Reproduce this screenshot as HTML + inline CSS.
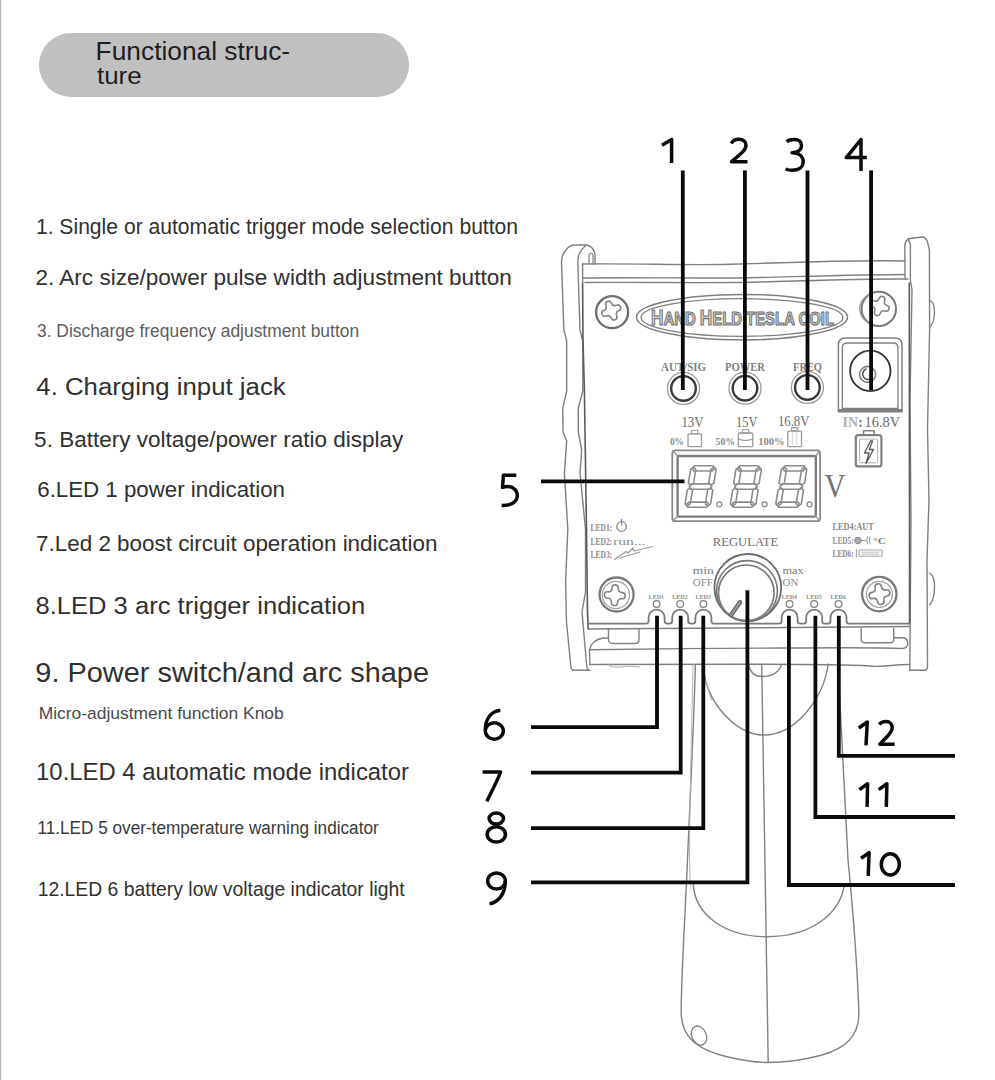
<!DOCTYPE html>
<html><head><meta charset="utf-8"><style>
html,body{margin:0;padding:0;background:#fff;}
body{width:995px;height:1080px;overflow:hidden;position:relative;}
svg{position:absolute;left:0;top:0;display:block;}
text{font-family:"Liberation Sans",sans-serif;}
.serif{font-family:"Liberation Serif",serif;}
</style></head><body>
<svg width="995" height="1080" viewBox="0 0 995 1080">
<rect x="0" y="0" width="995" height="1080" fill="#fff"/>
<rect x="0" y="0" width="1.3" height="1080" fill="#b8b8b8"/>
<rect x="39" y="33" width="370" height="64" rx="32" ry="32" fill="#c0c0c0"/>
<text x="95.63" y="59.50" font-size="25.24" fill="#1e1e1e" textLength="194.52" lengthAdjust="spacingAndGlyphs">Functional struc-</text>
<text x="96.94" y="83.80" font-size="23.72" fill="#1e1e1e" textLength="44.67" lengthAdjust="spacingAndGlyphs">ture</text>
<text x="35.91" y="233.90" font-size="22.70" fill="#303030" textLength="482.17" lengthAdjust="spacingAndGlyphs">1. Single or automatic trigger mode selection button</text>
<text x="35.49" y="284.80" font-size="22.93" fill="#303030" textLength="476.29" lengthAdjust="spacingAndGlyphs">2. Arc size/power pulse width adjustment button</text>
<text x="36.99" y="336.50" font-size="18.76" fill="#5e5e5e" textLength="322.08" lengthAdjust="spacingAndGlyphs">3. Discharge frequency adjustment button</text>
<text x="36.31" y="394.60" font-size="24.11" fill="#303030" textLength="249.41" lengthAdjust="spacingAndGlyphs">4. Charging input jack</text>
<text x="34.13" y="446.70" font-size="22.42" fill="#303030" textLength="369.14" lengthAdjust="spacingAndGlyphs">5. Battery voltage/power ratio display</text>
<text x="37.24" y="496.80" font-size="22.23" fill="#303030" textLength="247.72" lengthAdjust="spacingAndGlyphs">6.LED 1 power indication</text>
<text x="36.08" y="551.25" font-size="21.78" fill="#303030" textLength="401.28" lengthAdjust="spacingAndGlyphs">7.Led 2 boost circuit operation indication</text>
<text x="35.41" y="613.80" font-size="24.18" fill="#303030" textLength="329.92" lengthAdjust="spacingAndGlyphs">8.LED 3 arc trigger indication</text>
<text x="35.36" y="681.60" font-size="27.65" fill="#303030" textLength="393.67" lengthAdjust="spacingAndGlyphs">9. Power switch/and arc shape</text>
<text x="38.69" y="718.50" font-size="17.34" fill="#4a4a4a" textLength="245.03" lengthAdjust="spacingAndGlyphs">Micro-adjustment function Knob</text>
<text x="36.08" y="780.40" font-size="23.12" fill="#303030" textLength="372.91" lengthAdjust="spacingAndGlyphs">10.LED 4 automatic mode indicator</text>
<text x="37.47" y="833.50" font-size="19.03" fill="#3a3a3a" textLength="341.20" lengthAdjust="spacingAndGlyphs">11.LED 5 over-temperature warning indicator</text>
<text x="37.63" y="895.60" font-size="21.01" fill="#303030" textLength="367.10" lengthAdjust="spacingAndGlyphs">12.LED 6 battery low voltage indicator light</text>
<g id="device" fill="none" stroke="#808080" stroke-width="1.4" stroke-linejoin="round" stroke-linecap="round">
<path d="M590,670.3 L574,670.3 Q571.3,670.3 570.9,667 L566.5,622 L565.6,582 L567.8,529 L564.4,473 L566.7,441 L563,432 L562.8,408 L566.7,391 L566.7,341 L563.9,330 L561.5,262 Q561.5,255 566,250 Q569,245.5 574,245 L585,245 Q590,245 593,249 Q595,252 595,256 L595,264"/>
<path d="M586,245.2 Q581,249 578.5,255 L577.8,262 L580,330 L582.8,341 L582.8,391 L578.3,408 L578.3,432 L581.7,450 L580,473 L585.5,529 L585.5,592 L582,612 L586.8,667 L588.5,670.3"/>
<path d="M589,264 L589,255 Q591,251 593,255 L593,264" stroke-width="1.2"/>
<path d="M582.6,283 L583,340 L584.4,391 L586.5,530 L587.5,612 L588.3,629" stroke="#5a5a5a" stroke-width="1.6"/>
<path d="M582.6,264 C640,263 690,266 740,264 C800,262 860,260 905,261"/>
<path d="M582.6,264 L582.6,283"/>
<path d="M583,278 C650,277 700,279 760,277.5 C820,276 870,274.5 905,274.5"/>
<path d="M585,282.5 C650,282 700,283.5 760,282 C820,280 870,278.5 908,279"/>
<path d="M905,279 L904.8,246 Q905,240 910,238.5 L922,237 Q926,237 927.5,242 L929.4,250 L929.6,330 L927.5,430 L929,500 L927,560 L927.5,666 Q927.5,670.3 924,670.3 L909.8,670.3"/>
<path d="M908.3,238.5 L910.4,245 L910.4,280 L912,290 L910,400 L911,520 L909.8,670.3"/>
<path d="M929.5,300 Q935,303 934.5,313 Q934,324 929.5,327"/>
<path d="M929.5,573 Q935,576 934.5,588 Q934,601 929.5,605"/>
<path d="M909.3,283 L909.6,623" stroke="#5a5a5a" stroke-width="1.6"/>
<circle cx="612.1" cy="312.2" r="16" stroke="#6e6e6e" stroke-width="2.3"/>
<path d="M-3.2,-7.5 Q-3.2,-10.8 0,-10.8 Q3.2,-10.8 3.2,-7.5 C3.2,-4.5 4.5,-3.2 7.5,-3.2 Q10.8,-3.2 10.8,0 Q10.8,3.2 7.5,3.2 C4.5,3.2 3.2,4.5 3.2,7.5 Q3.2,10.8 0,10.8 Q-3.2,10.8 -3.2,7.5 C-3.2,4.5 -4.5,3.2 -7.5,3.2 Q-10.8,3.2 -10.8,0 Q-10.8,-3.2 -7.5,-3.2 C-4.5,-3.2 -3.2,-4.5 -3.2,-7.5 Z" transform="translate(611.3,310.6) rotate(-23) scale(0.92)" stroke="#858585" stroke-width="1.74"/>
<circle cx="878.8" cy="308.9" r="17.2" stroke="#7a7a7a" stroke-width="2"/>
<path d="M872,294 A15,15 0 0 0 872,323.5" stroke="#9a9a9a" stroke-width="1.3"/>
<path d="M-3.2,-7.5 Q-3.2,-10.8 0,-10.8 Q3.2,-10.8 3.2,-7.5 C3.2,-4.5 4.5,-3.2 7.5,-3.2 Q10.8,-3.2 10.8,0 Q10.8,3.2 7.5,3.2 C4.5,3.2 3.2,4.5 3.2,7.5 Q3.2,10.8 0,10.8 Q-3.2,10.8 -3.2,7.5 C-3.2,4.5 -4.5,3.2 -7.5,3.2 Q-10.8,3.2 -10.8,0 Q-10.8,-3.2 -7.5,-3.2 C-4.5,-3.2 -3.2,-4.5 -3.2,-7.5 Z" transform="translate(879.6,306) rotate(19) scale(0.92)" stroke="#858585" stroke-width="1.74"/>
<circle cx="616.6" cy="594.5" r="17" stroke="#7a7a7a" stroke-width="2.3"/>
<circle cx="615.9" cy="595" r="13.6" stroke="#a0a0a0" stroke-width="1.2"/>
<path d="M-3.2,-7.5 Q-3.2,-10.8 0,-10.8 Q3.2,-10.8 3.2,-7.5 C3.2,-4.5 4.5,-3.2 7.5,-3.2 Q10.8,-3.2 10.8,0 Q10.8,3.2 7.5,3.2 C4.5,3.2 3.2,4.5 3.2,7.5 Q3.2,10.8 0,10.8 Q-3.2,10.8 -3.2,7.5 C-3.2,4.5 -4.5,3.2 -7.5,3.2 Q-10.8,3.2 -10.8,0 Q-10.8,-3.2 -7.5,-3.2 C-4.5,-3.2 -3.2,-4.5 -3.2,-7.5 Z" transform="translate(614.8,595.3) rotate(3) scale(0.97)" stroke="#858585" stroke-width="1.65"/>
<circle cx="879.3" cy="594.1" r="17.2" stroke="#7a7a7a" stroke-width="2.3"/>
<circle cx="879.4" cy="594.3" r="13" stroke="#a0a0a0" stroke-width="1.2"/>
<path d="M-3.2,-7.5 Q-3.2,-10.8 0,-10.8 Q3.2,-10.8 3.2,-7.5 C3.2,-4.5 4.5,-3.2 7.5,-3.2 Q10.8,-3.2 10.8,0 Q10.8,3.2 7.5,3.2 C4.5,3.2 3.2,4.5 3.2,7.5 Q3.2,10.8 0,10.8 Q-3.2,10.8 -3.2,7.5 C-3.2,4.5 -4.5,3.2 -7.5,3.2 Q-10.8,3.2 -10.8,0 Q-10.8,-3.2 -7.5,-3.2 C-4.5,-3.2 -3.2,-4.5 -3.2,-7.5 Z" transform="translate(879.5,594.2) rotate(-10) scale(0.97)" stroke="#858585" stroke-width="1.65"/>
<ellipse cx="742" cy="317.2" rx="105.5" ry="22.8" stroke="#808080" stroke-width="1.5"/>
<ellipse cx="742" cy="317.5" rx="101" ry="18.8" stroke="#808080" stroke-width="1.3"/>
<text x="651" y="325.2" font-weight="bold" fill="#d0d0d0" stroke="#6e6e6e" stroke-width="1.1" textLength="183" lengthAdjust="spacingAndGlyphs"><tspan font-size="21.5">H</tspan><tspan font-size="18.6">AND </tspan><tspan font-size="21.5">H</tspan><tspan font-size="18.6">ELD TESLA COIL</tspan></text>
<circle cx="683.5" cy="388.4" r="16" stroke="#9a9a9a" stroke-width="1.3"/>
<circle cx="683.5" cy="388.4" r="12.3" stroke="#3a3a3a" stroke-width="2.4"/>
<circle cx="745" cy="388.2" r="16" stroke="#9a9a9a" stroke-width="1.3"/>
<circle cx="745" cy="388.2" r="12.3" stroke="#3a3a3a" stroke-width="2.4"/>
<circle cx="807.4" cy="387.4" r="16" stroke="#9a9a9a" stroke-width="1.3"/>
<circle cx="807.4" cy="387.4" r="12.3" stroke="#3a3a3a" stroke-width="2.4"/>
<text class="serif" x="661" y="371" font-size="11.5" fill="#808080" stroke="none" font-weight="bold" textLength="45" lengthAdjust="spacingAndGlyphs" >AUT/SIG</text>
<text class="serif" x="725" y="371" font-size="11.5" fill="#808080" stroke="none" font-weight="bold" textLength="40" lengthAdjust="spacingAndGlyphs" >POWER</text>
<text class="serif" x="793" y="371" font-size="11.5" fill="#808080" stroke="none" font-weight="bold" textLength="29" lengthAdjust="spacingAndGlyphs" >FREQ</text>
<path d="M838.4,411.7 L838.4,345 Q838.4,338 845.4,338 L895,338 Q902,338 902,345 L902,411.7 Z" stroke="#808080" stroke-width="1.5"/>
<path d="M842.3,408.5 L842.3,348 Q842.3,343 847.3,343 L893,343 Q898,343 898,348 L898,408.5 Z" stroke="#808080" stroke-width="1.3"/>
<line x1="839" y1="410.3" x2="901.5" y2="410.3" stroke="#808080" stroke-width="2.6"/>
<circle cx="870.3" cy="370.9" r="20.2" stroke="#333" stroke-width="1.8"/>
<circle cx="867.6" cy="374.4" r="8" stroke="#808080" stroke-width="1.6"/>
<path d="M866,369 A5.5,5.5 0 1 0 872,378" stroke="#555" stroke-width="1.6"/>
<text class="serif" x="842.5" y="426.5" font-size="14" fill="#b0b0b0" stroke="none" font-weight="bold" textLength="15.5" lengthAdjust="spacingAndGlyphs" >IN</text>
<text class="serif" x="858.5" y="426.5" font-size="14" fill="#666" stroke="none" font-weight="bold" textLength="4" lengthAdjust="spacingAndGlyphs" >:</text>
<text class="serif" x="864.6" y="426.5" font-size="14.5" fill="#6a6a6a" stroke="none" font-weight="normal" textLength="35.5" lengthAdjust="spacingAndGlyphs" >16.8V</text>
<rect x="855.8" y="435.2" width="25.6" height="31.2" rx="2.5" stroke="#808080" stroke-width="2.2"/>
<rect x="859.6" y="439" width="18" height="23.8" rx="1" stroke="#b0b0b0" stroke-width="1"/>
<rect x="863.5" y="430.8" width="10.5" height="4.4" stroke="#808080" stroke-width="1.6"/>
<path d="M870.5,441 L864.5,453 L869,453 L866,463.5 L873.5,449.5 L869.3,449.5 L872.5,441 Z" stroke="#555" stroke-width="1.3"/>
<text class="serif" x="681.4" y="427.4" font-size="14" fill="#6a6a6a" stroke="none" font-weight="normal" textLength="22.2" lengthAdjust="spacingAndGlyphs" >13V</text>
<text class="serif" x="736" y="427.4" font-size="14" fill="#6a6a6a" stroke="none" font-weight="normal" textLength="21.4" lengthAdjust="spacingAndGlyphs" >15V</text>
<text class="serif" x="777.9" y="425.7" font-size="14" fill="#6a6a6a" stroke="none" font-weight="normal" textLength="31.6" lengthAdjust="spacingAndGlyphs" >16.8V</text>
<text class="serif" x="669.9" y="445.4" font-size="11" fill="#8a8a8a" stroke="none" font-weight="bold" textLength="14" lengthAdjust="spacingAndGlyphs" >0%</text>
<text class="serif" x="715.5" y="445.4" font-size="11" fill="#8a8a8a" stroke="none" font-weight="bold" textLength="19.7" lengthAdjust="spacingAndGlyphs" >50%</text>
<text class="serif" x="758.2" y="445.4" font-size="11" fill="#8a8a8a" stroke="none" font-weight="bold" textLength="26.5" lengthAdjust="spacingAndGlyphs" >100%</text>
<rect x="688" y="433.8" width="13.5" height="12.800000000000011" rx="1" stroke="#9a9a9a" stroke-width="1.3"/><rect x="691.7" y="430.3" width="6.1" height="3.5" stroke="#9a9a9a" stroke-width="1.1"/>
<rect x="738.3" y="433.0" width="14.5" height="13.600000000000023" rx="1" stroke="#9a9a9a" stroke-width="1.3"/><rect x="742.3" y="429.5" width="6.5" height="3.5" stroke="#9a9a9a" stroke-width="1.1"/><path d="M738.3,439.05 Q745.55,442.05 752.8,439.05" stroke="#9a9a9a" stroke-width="1.1"/>
<rect x="787.8" y="431.1" width="13.700000000000045" height="15.5" rx="1" stroke="#9a9a9a" stroke-width="1.3"/><rect x="791.6" y="427.6" width="6.2" height="3.5" stroke="#9a9a9a" stroke-width="1.1"/><line x1="792.4" y1="432.6" x2="792.4" y2="445.1" stroke="#c8c8c8" stroke-width="0.8"/><line x1="796.9" y1="432.6" x2="796.9" y2="445.1" stroke="#c8c8c8" stroke-width="0.8"/>
<rect x="672.3" y="450.4" width="147.8" height="70.8" rx="3" stroke="#888" stroke-width="1.8"/>
<rect x="677.6" y="456" width="138.2" height="60.6" rx="1" stroke="#7c7c7c" stroke-width="2.3"/>
<line x1="673.5" y1="451.6" x2="677.6" y2="456" stroke="#999" stroke-width="1.4"/>
<line x1="818.9" y1="451.6" x2="815.8" y2="456" stroke="#999" stroke-width="1.4"/>
<line x1="673.5" y1="520" x2="677.6" y2="516.6" stroke="#999" stroke-width="1.4"/>
<line x1="818.9" y1="520" x2="815.8" y2="516.6" stroke="#999" stroke-width="1.4"/>
<path d="M692.1,468.4 L694.6,465.8 L713.1,465.8 L714.8,468.4 L712.3,471.0 L693.8,471.0 Z" stroke="#8c8c8c" stroke-width="1.6"/><path d="M689.2,486.6 L691.7,483.9 L710.2,483.9 L711.9,486.6 L709.4,489.2 L690.9,489.2 Z" stroke="#8c8c8c" stroke-width="1.6"/><path d="M686.3,504.7 L688.8,502.1 L707.3,502.1 L709.0,504.7 L706.5,507.3 L688.0,507.3 Z" stroke="#8c8c8c" stroke-width="1.6"/><path d="M690.6,485.2 L693.6,483.1 L695.8,469.3 L693.5,467.2 L690.6,469.3 L688.4,483.1 Z" stroke="#8c8c8c" stroke-width="1.6"/><path d="M687.3,505.9 L690.3,503.8 L692.5,490.1 L690.2,487.9 L687.3,490.1 L685.1,503.8 Z" stroke="#8c8c8c" stroke-width="1.6"/><path d="M710.9,485.2 L713.9,483.1 L716.1,469.3 L713.8,467.2 L710.9,469.3 L708.7,483.1 Z" stroke="#8c8c8c" stroke-width="1.6"/><path d="M707.6,505.9 L710.6,503.8 L712.8,490.1 L710.5,487.9 L707.6,490.1 L705.4,503.8 Z" stroke="#8c8c8c" stroke-width="1.6"/>
<path d="M737.4,468.4 L739.9,465.8 L758.4,465.8 L760.1,468.4 L757.6,471.0 L739.1,471.0 Z" stroke="#8c8c8c" stroke-width="1.6"/><path d="M734.5,486.6 L737.0,483.9 L755.5,483.9 L757.2,486.6 L754.7,489.2 L736.2,489.2 Z" stroke="#8c8c8c" stroke-width="1.6"/><path d="M731.6,504.7 L734.1,502.1 L752.6,502.1 L754.3,504.7 L751.8,507.3 L733.3,507.3 Z" stroke="#8c8c8c" stroke-width="1.6"/><path d="M735.9,485.2 L738.9,483.1 L741.1,469.3 L738.8,467.2 L735.9,469.3 L733.7,483.1 Z" stroke="#8c8c8c" stroke-width="1.6"/><path d="M732.6,505.9 L735.6,503.8 L737.8,490.1 L735.5,487.9 L732.6,490.1 L730.4,503.8 Z" stroke="#8c8c8c" stroke-width="1.6"/><path d="M756.2,485.2 L759.2,483.1 L761.4,469.3 L759.1,467.2 L756.2,469.3 L754.0,483.1 Z" stroke="#8c8c8c" stroke-width="1.6"/><path d="M752.9,505.9 L755.9,503.8 L758.1,490.1 L755.8,487.9 L752.9,490.1 L750.7,503.8 Z" stroke="#8c8c8c" stroke-width="1.6"/>
<path d="M782.8,468.4 L785.3,465.8 L803.8,465.8 L805.5,468.4 L803.0,471.0 L784.5,471.0 Z" stroke="#8c8c8c" stroke-width="1.6"/><path d="M779.9,486.6 L782.4,483.9 L800.9,483.9 L802.6,486.6 L800.1,489.2 L781.6,489.2 Z" stroke="#8c8c8c" stroke-width="1.6"/><path d="M777.0,504.7 L779.5,502.1 L798.0,502.1 L799.7,504.7 L797.2,507.3 L778.7,507.3 Z" stroke="#8c8c8c" stroke-width="1.6"/><path d="M781.3,485.2 L784.3,483.1 L786.5,469.3 L784.2,467.2 L781.3,469.3 L779.1,483.1 Z" stroke="#8c8c8c" stroke-width="1.6"/><path d="M778.0,505.9 L781.0,503.8 L783.2,490.1 L780.9,487.9 L778.0,490.1 L775.8,503.8 Z" stroke="#8c8c8c" stroke-width="1.6"/><path d="M801.6,485.2 L804.6,483.1 L806.8,469.3 L804.5,467.2 L801.6,469.3 L799.4,483.1 Z" stroke="#8c8c8c" stroke-width="1.6"/><path d="M798.3,505.9 L801.3,503.8 L803.5,490.1 L801.2,487.9 L798.3,490.1 L796.1,503.8 Z" stroke="#8c8c8c" stroke-width="1.6"/>
<circle cx="719.3" cy="504.3" r="2.5" stroke="#8c8c8c" stroke-width="1.3"/>
<circle cx="764.6" cy="504.3" r="2.5" stroke="#8c8c8c" stroke-width="1.3"/>
<circle cx="809.5" cy="504.3" r="2.5" stroke="#8c8c8c" stroke-width="1.3"/>
<text class="serif" x="824.5" y="497.2" font-size="33.5" fill="#727272" stroke="none" font-weight="normal" textLength="21" lengthAdjust="spacingAndGlyphs" >V</text>
<text class="serif" x="590.6" y="531" font-size="9.5" fill="#8a8a8a" stroke="none" font-weight="bold" textLength="21.5" lengthAdjust="spacingAndGlyphs" >LED1:</text>
<circle cx="621.6" cy="526.5" r="4.8" stroke="#8a8a8a" stroke-width="1.3"/>
<line x1="621.6" y1="519.5" x2="621.6" y2="525" stroke="#8a8a8a" stroke-width="1.3"/>
<text class="serif" x="590.6" y="544.6" font-size="9.5" fill="#8a8a8a" stroke="none" font-weight="bold" textLength="21.5" lengthAdjust="spacingAndGlyphs" >LED2:</text>
<text class="serif" x="613" y="544.6" font-size="10.5" fill="#8a8a8a" stroke="none" font-weight="normal" textLength="32.5" lengthAdjust="spacingAndGlyphs" >run...</text>
<text class="serif" x="590.6" y="558" font-size="9.5" fill="#8a8a8a" stroke="none" font-weight="bold" textLength="21.5" lengthAdjust="spacingAndGlyphs" >LED3:</text>
<path d="M614.5,559.5 L626,551.5 L628,553 L633,548 L634,551 L652.5,546.5 M620,558 L640,552" stroke="#9a9a9a" stroke-width="1.2"/>
<text class="serif" x="832.6" y="530" font-size="9.5" fill="#8a8a8a" stroke="none" font-weight="bold" textLength="41.2" lengthAdjust="spacingAndGlyphs" >LED4:AUT</text>
<text class="serif" x="832.6" y="544" font-size="9.5" fill="#8a8a8a" stroke="none" font-weight="bold" textLength="21" lengthAdjust="spacingAndGlyphs" >LED5:</text>
<circle cx="858" cy="540.5" r="3.3" fill="#aaa" stroke="#8a8a8a" stroke-width="1"/>
<path d="M862,540.5 L866,540.5 M867.5,537 Q866,540.5 867.5,544 M870,537 Q868.5,540.5 870,544" stroke="#9a9a9a" stroke-width="1"/>
<text class="serif" x="873" y="544" font-size="9" fill="#7a7a7a" stroke="none" font-weight="bold" textLength="13" lengthAdjust="spacingAndGlyphs" >°C</text>
<text class="serif" x="832.6" y="556.6" font-size="9.5" fill="#8a8a8a" stroke="none" font-weight="bold" textLength="21" lengthAdjust="spacingAndGlyphs" >LED6:</text>
<path d="M856.5,549.5 L856.5,556.8" stroke="#aaa" stroke-width="1.2"/>
<rect x="859" y="550" width="23" height="6.3" rx="1" stroke="#a5a5a5" stroke-width="1.1"/>
<path d="M862,552.2 L879,552.2 M862,554.2 L879,554.2" stroke="#bbb" stroke-width="1"/>
<text class="serif" x="712.8" y="546.4" font-size="13" fill="#6e6e6e" stroke="none" font-weight="normal" textLength="65.4" lengthAdjust="spacingAndGlyphs" >REGULATE</text>
<text class="serif" x="692.8" y="573.8" font-size="11" fill="#7a7a7a" stroke="none" font-weight="normal" textLength="21.1" lengthAdjust="spacingAndGlyphs" >min</text>
<text class="serif" x="692.8" y="585.5" font-size="11" fill="#8a8a8a" stroke="none" font-weight="normal" textLength="20" lengthAdjust="spacingAndGlyphs" >OFF</text>
<text class="serif" x="782.5" y="573.8" font-size="11" fill="#7a7a7a" stroke="none" font-weight="normal" textLength="21.1" lengthAdjust="spacingAndGlyphs" >max</text>
<text class="serif" x="782.5" y="585.5" font-size="11" fill="#8a8a8a" stroke="none" font-weight="normal" textLength="15.8" lengthAdjust="spacingAndGlyphs" >ON</text>
<circle cx="747.8" cy="587.4" r="33.4" stroke="#6a6a6a" stroke-width="1.8"/>
<circle cx="747" cy="591" r="30.4" stroke="#777" stroke-width="1.6"/>
<circle cx="746.3" cy="592.8" r="27.8" stroke="#777" stroke-width="1.6"/>
<line x1="740" y1="602.2" x2="731.2" y2="614.8" stroke="#6a6a6a" stroke-width="4.6"/>
<line x1="740" y1="602.2" x2="731.2" y2="614.8" stroke="#9a9a9a" stroke-width="2"/>
<text class="serif" x="648.6" y="599" font-size="6.5" fill="#8a8a8a" stroke="none" font-weight="bold" textLength="15.5" lengthAdjust="spacingAndGlyphs" >LED1</text>
<circle cx="656.6" cy="604" r="3.4" stroke="#808080" stroke-width="1.2"/>
<text class="serif" x="672.2" y="599" font-size="6.5" fill="#8a8a8a" stroke="none" font-weight="bold" textLength="15.5" lengthAdjust="spacingAndGlyphs" >LED2</text>
<circle cx="680.2" cy="604" r="3.4" stroke="#808080" stroke-width="1.2"/>
<text class="serif" x="695.4" y="599" font-size="6.5" fill="#8a8a8a" stroke="none" font-weight="bold" textLength="15.5" lengthAdjust="spacingAndGlyphs" >LED3</text>
<circle cx="703.4" cy="604" r="3.4" stroke="#808080" stroke-width="1.2"/>
<text class="serif" x="781.6" y="599" font-size="6.5" fill="#8a8a8a" stroke="none" font-weight="bold" textLength="15.5" lengthAdjust="spacingAndGlyphs" >LED4</text>
<circle cx="789.6" cy="604" r="3.4" stroke="#808080" stroke-width="1.2"/>
<text class="serif" x="806.2" y="599" font-size="6.5" fill="#8a8a8a" stroke="none" font-weight="bold" textLength="15.5" lengthAdjust="spacingAndGlyphs" >LED5</text>
<circle cx="814.2" cy="604" r="3.4" stroke="#808080" stroke-width="1.2"/>
<text class="serif" x="830.5" y="599" font-size="6.5" fill="#8a8a8a" stroke="none" font-weight="bold" textLength="15.5" lengthAdjust="spacingAndGlyphs" >LED6</text>
<circle cx="838.5" cy="604" r="3.4" stroke="#808080" stroke-width="1.2"/>
<path d="M587.6,623.6 L646.1,623.6 Q648.6,623.6 648.6,621.1 L648.6,617.6 A8.0,8.0 0 0 1 664.6,617.6 L664.6,621.1 Q664.6,623.6 667.1,623.6 L669.7,623.6 Q672.2,623.6 672.2,621.1 L672.2,617.6 A8.0,8.0 0 0 1 688.2,617.6 L688.2,621.1 Q688.2,623.6 690.7,623.6 L692.9,623.6 Q695.4,623.6 695.4,621.1 L695.4,617.6 A8.0,8.0 0 0 1 711.4,617.6 L711.4,621.1 Q711.4,623.6 713.9,623.6 L779.1,623.6 Q781.6,623.6 781.6,621.1 L781.6,617.6 A8.0,8.0 0 0 1 797.6,617.6 L797.6,621.1 Q797.6,623.6 800.1,623.6 L803.7,623.6 Q806.2,623.6 806.2,621.1 L806.2,617.6 A8.0,8.0 0 0 1 822.2,617.6 L822.2,621.1 Q822.2,623.6 824.7,623.6 L828.0,623.6 Q830.5,623.6 830.5,621.1 L830.5,617.6 A8.0,8.0 0 0 1 846.5,617.6 L846.5,621.1 Q846.5,623.6 849.0,623.6 L909.6,623.6" stroke="#7a7a7a" stroke-width="1.8"/>
<path d="M588.3,629 L909.6,626.5" stroke="#808080" stroke-width="1.5"/>
<path d="M608.5,628.5 L608.5,640 Q609,643.5 613,643.5 L635,643.5 Q639,643.5 639,640 L639,628.5" stroke="#808080" stroke-width="1.4"/>
<path d="M861.2,628.5 L861.2,639.5 Q861.5,642.8 865,642.8 L890,642.8 Q893.7,642.8 893.7,639.5 L893.7,628.5" stroke="#808080" stroke-width="1.4"/>
<path d="M589.5,650 Q591.5,640 603,638 L608.5,638" stroke="#808080" stroke-width="1.4"/>
<path d="M589.5,649.8 C650,648.8 720,648.3 780,648 C840,647.5 880,647.3 903,648.5 Q907.8,648 907.8,643 Q907.5,637.8 902,637.8 L893.7,637.8" stroke="#808080" stroke-width="1.4"/>
<path d="M589.5,650 L589.8,664.5 C640,664.5 700,664.3 760,664.3 C820,664.5 850,665 870,666 C880,667.5 890,664.5 909.5,664.5" stroke="#808080" stroke-width="1.4"/>
<path d="M608,664.5 Q612,668 620,667 Q630,665.5 640,667" stroke="#b0b0b0" stroke-width="1"/>
<path d="M695.4,664.5 C694,720 690,800 687.5,860 C685,920 681,980 681.2,1013 C681.5,1038 698,1050 728,1057 C745,1061 758,1062.5 768,1062.5 C785,1062.5 802,1060.5 822,1055 C846,1048 859,1036 858.9,1013 C857,960 852,900 848,860 C845,800 842,740 838,664.5" stroke="#828282" stroke-width="1.4"/>
<path d="M693,664.5 C692,720 689.5,800 689.5,860 C689.8,880 690.5,885 691,889" stroke="#b5b5b5" stroke-width="1"/>
<path d="M761.7,664.5 C763,760 766,900 768.2,1062" stroke="#828282" stroke-width="1.4"/>
<path d="M704.2,672 C706,700 735,735 764,735 C795,735 823,700 828.3,664" stroke="#828282" stroke-width="1.4"/>
<path d="M748.4,664.5 C750,672 755,676.5 762,676.5 C772,676.5 779,672 781.6,664.5" stroke="#828282" stroke-width="1.3"/>
<path d="M693.3,884.4 C695,915 725,936.7 766.7,936.7 C810,936.7 840,915 844.4,884.4" stroke="#828282" stroke-width="1.4"/>
<ellipse cx="699" cy="1035.6" rx="7.2" ry="10" transform="rotate(-25 699 1035.6)" stroke="#828282" stroke-width="1.3"/>
<path d="M704,677 L711.6,700" stroke="#b0b0b0" stroke-width="1"/>
</g>
<g fill="none" stroke="#0a0a0a" stroke-width="3.8" stroke-linejoin="miter" stroke-linecap="butt">
<line x1="682.8" y1="170.4" x2="682.8" y2="390"/>
<line x1="744.9" y1="170.4" x2="744.9" y2="390"/>
<line x1="807.5" y1="170.4" x2="807.5" y2="390"/>
<line x1="871.1" y1="170.4" x2="871.1" y2="390"/>
<line x1="541" y1="481.3" x2="684.5" y2="481.3"/>
<path d="M657,615.8 L657,727.1 L531,727.1"/>
<path d="M680.7,615.8 L680.7,772.6 L531,772.6"/>
<path d="M703.3,615.8 L703.3,828.2 L531,828.2"/>
<path d="M747.4,590.3 L747.4,882.4 L531,882.4"/>
<path d="M788.9,615.8 L788.9,885 L955,885"/>
<path d="M815.4,615.8 L815.4,817 L955,817"/>
<path d="M838.8,615.8 L838.8,755.8 L955,755.8"/>
</g>
<g fill="none" stroke="#0a0a0a" stroke-width="3.5" stroke-linecap="butt" stroke-linejoin="round">
<path d="M662,145.3 L671.6,139.4 L671.6,163"/>
<path d="M731.3,143.5 C733,140 736.5,139.2 739,139.2 C743.5,139.2 746,142 746,145.5 C746,149.5 742.5,152.5 731.5,161.7 L747.5,161.7"/>
<path d="M786.5,141.5 C789,139.6 792,139.4 794.5,139.4 C799,139.4 801.5,142 801.5,145.5 C801.5,150 797.5,152.7 792,152.7 C799,152.7 803.2,156.5 803.2,161.8 C803.2,167.5 798,170.3 792,170.3 C789.5,170.3 787.5,169.8 785.5,169"/>
<path d="M861,170.9 L861,139.5 L846.3,157.6 L866.8,157.6"/>
<path d="M516.3,475.3 L503.4,475.3 L502.5,487.5 C504,486.8 506,486.6 507.5,486.6 C513.5,486.6 517.3,490.5 517.3,495.5 C517.3,502 511,505.5 501.6,505.5"/>
<path d="M500.3,710.2 C491,711.5 485.4,718.5 485.4,730"/>
<ellipse cx="494.3" cy="731" rx="9" ry="8.2"/>
<path d="M482.6,772 L500.6,772 C497.5,780.5 491.5,792 486.7,801.4"/>
<ellipse cx="496.3" cy="818.6" rx="7.2" ry="5.5"/>
<ellipse cx="496.3" cy="834.4" rx="9.1" ry="7.7"/>
<ellipse cx="496.5" cy="881" rx="8.8" ry="8.1"/>
<path d="M505.3,881 C505.3,895 497.5,902.5 489.6,903.8"/>
<path d="M858.8,728 L867.3,722 L866,745.3"/>
<path d="M879.2,724.5 C881,722.3 883.5,721.6 886,721.6 C890,721.6 892.2,724.2 892.2,727.8 C892.2,731.5 889,735 879.8,744.2 L894.6,744.2"/>
<path d="M859.4,789.6 L867.6,783.8 L867.1,806.9"/>
<path d="M878.7,789.6 L886.9,783.8 L886.3,806.9"/>
<path d="M861,858.3 L869.1,852.7 L868.2,875.9"/>
<ellipse cx="890.3" cy="864.4" rx="9" ry="10.7"/>
</g>
</svg>
</body></html>
